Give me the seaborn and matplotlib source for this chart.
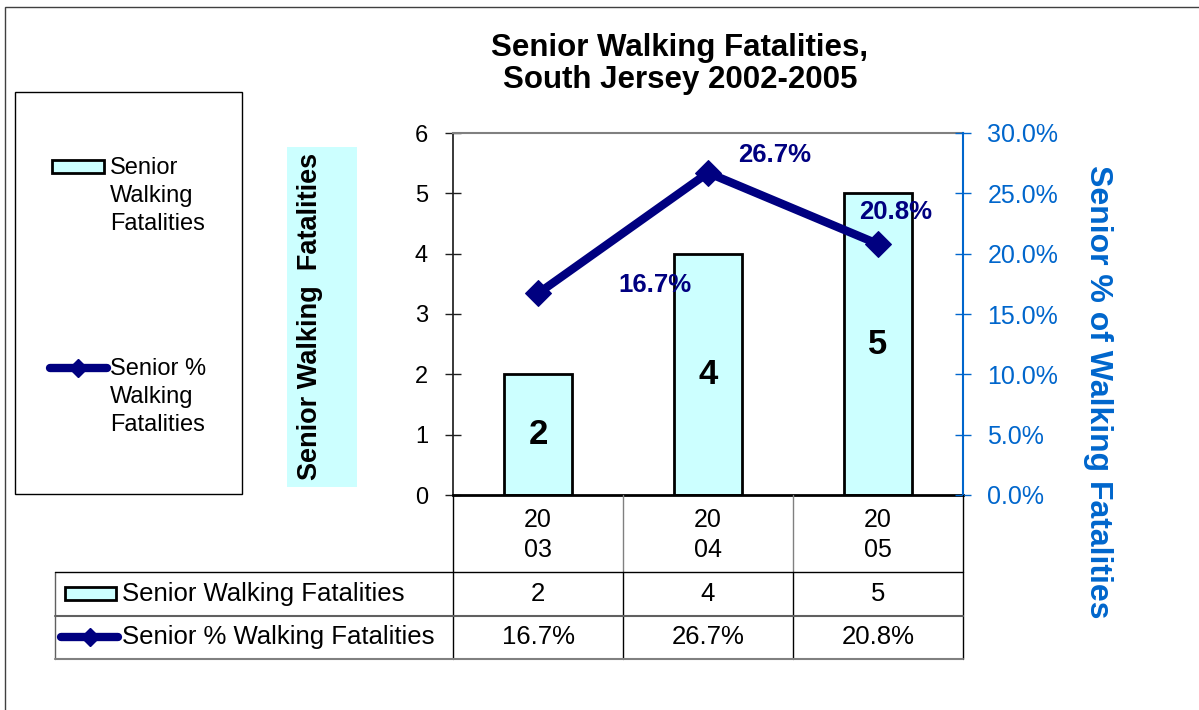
import textwrap
import numpy as np
import pandas as pd
import seaborn as sns
import matplotlib.pyplot as plt
from matplotlib.patches import Rectangle
from matplotlib.lines import Line2D

# data
years = ["2003", "2004", "2005"]
fatalities = [2, 4, 5]
senior_pct = [16.7, 26.7, 20.8]
bar_name = "Senior Walking Fatalities"
line_name = "Senior % Walking Fatalities"
title = "Senior Walking Fatalities,\nSouth Jersey 2002-2005"
left_label = "Senior Walking  Fatalities"
right_label = "Senior % of Walking Fatalities"

W, H = 1199, 710
CYAN = "#CCFFFF"
NAVY = "#000080"
BLUE = "#0066CC"


# layout helpers: pixel positions -> figure fractions
def fx(x):
    return x / W


def fy(y):
    return 1 - y / H


def hline(y, x0, x1, color="black", lw=1.0):
    fig.add_artist(Line2D([fx(x0), fx(x1)], [fy(y), fy(y)], color=color, lw=lw))


def vline(x, y0, y1, color="black", lw=1.0):
    fig.add_artist(Line2D([fx(x), fx(x)], [fy(y0), fy(y1)], color=color, lw=lw))


sns.set_theme(style="white")
plt.rcParams['font.family'] = ['Liberation Sans', 'DejaVu Sans']
plt.rcParams['text.color'] = 'black'
plt.rcParams['axes.labelcolor'] = 'black'
plt.rcParams['xtick.color'] = 'black'
plt.rcParams['ytick.color'] = 'black'

fig = plt.figure(figsize=(W / 100, H / 100), dpi=100)

# chart area border
fig.add_artist(Rectangle((fx(5), fy(730)), 1.2, fy(7) - fy(730),
                         fill=False, edgecolor="#404040", lw=1))

# plot area
ax = fig.add_axes([fx(453), fy(495), fx(963) - fx(453), fy(133) - fy(495)])
df = pd.DataFrame({"year": years, "fatalities": fatalities, "pct": senior_pct})
sns.barplot(data=df, x="year", y="fatalities", ax=ax, color=CYAN, saturation=1,
            edgecolor="black", linewidth=2, width=0.4)
ax.bar_label(ax.containers[0], label_type="center", fontsize=25, fontweight="bold",
             color="black")
ax.set_ylim(0, 6)
ax.set_xlim(-0.5, 2.5)
ax.set_yticks(range(7))
ax.set_xlabel("")
ax.set_ylabel("")
ax.tick_params(axis="x", length=0, labelbottom=False)
ax.tick_params(axis="y", direction="inout", length=12, width=1, color="#202020",
               labelcolor="black", labelsize=17, pad=12, left=True)
ax.spines["top"].set_color("#808080")
ax.spines["top"].set_linewidth(1.5)
ax.spines["left"].set_color("#202020")
ax.spines["bottom"].set_color("black")
ax.spines["bottom"].set_linewidth(2)
ax.spines["right"].set_visible(False)

# percentage line on the secondary axis
ax2 = ax.twinx()
sns.lineplot(x=np.arange(len(years)), y=senior_pct, ax=ax2, color=NAVY, linewidth=6,
             marker="D", markersize=13, markeredgecolor=NAVY)
ax2.set_ylim(0, 30)
ax2.set_xlim(-0.5, 2.5)
ax2.set_yticks(np.arange(0, 31, 5))
ax2.yaxis.set_major_formatter(lambda v, p: f"{v:.1f}%")
ax2.tick_params(axis="y", direction="inout", length=11, width=1, color=BLUE,
                labelcolor=BLUE, labelsize=18, pad=12, right=True)
for s in ["top", "left", "bottom"]:
    ax2.spines[s].set_visible(False)
ax2.spines["right"].set_color(BLUE)
ax2.spines["right"].set_linewidth(1.5)

# Excel put the point labels in odd spots (offsets in px)
pct_offsets = [(117, 8), (67, 18), (18, 32)]
for i, (v, (dx, dy)) in enumerate(zip(senior_pct, pct_offsets)):
    ax2.annotate(f"{v:.1f}%", (i, v), xytext=(dx * 0.72, dy * 0.72),
                 textcoords="offset points", ha="center", va="center",
                 fontsize=18.5, fontweight="bold", color=NAVY)

# title and axis titles
fig.text(fx(680), fy(64), title, ha="center", va="center", fontsize=22.5,
         fontweight="bold", linespacing=1.07)
fig.add_artist(Rectangle((fx(287), fy(487)), fx(357) - fx(287), fy(147) - fy(487),
                         facecolor=CYAN, edgecolor="none"))
fig.text(fx(310), fy(316), left_label, rotation=90, ha="center", va="center",
         fontsize=19.5, fontweight="bold")
fig.text(fx(1098), fy(392), right_label, rotation=-90, ha="center", va="center",
         fontsize=23, fontweight="bold", color=BLUE)

# legend box
fig.add_artist(Rectangle((fx(15), fy(494)), fx(242) - fx(15), fy(92) - fy(494),
                         fill=False, edgecolor="black", lw=1))
fig.add_artist(Rectangle((fx(52), fy(173)), fx(104) - fx(52), fy(160) - fy(173),
                         facecolor=CYAN, edgecolor="black", lw=2))
fig.text(fx(110), fy(196), textwrap.fill(bar_name, 9, break_long_words=False),
         fontsize=17, ha="left", va="center", linespacing=1.33)
fig.add_artist(Line2D([fx(50), fx(107)], [fy(368), fy(368)], color=NAVY, lw=6,
                      solid_capstyle="round"))
fig.add_artist(Line2D([fx(78)], [fy(368)], marker="D", ms=9, color=NAVY))
fig.text(fx(110), fy(397), textwrap.fill(line_name, 9, break_long_words=False),
         fontsize=17, ha="left", va="center", linespacing=1.33)

# data table under the plot
col_edges = [453, 623, 793, 963]
col_mid = [(a + b) / 2 for a, b in zip(col_edges[:-1], col_edges[1:])]
vline(453, 495, 659)
vline(963, 495, 659)
for x in col_edges[1:-1]:
    vline(x, 495, 572, color="#808080")
    vline(x, 572, 659)
vline(55, 572, 659, color="#606060")
hline(572, 55, 963)
hline(616, 55, 963, color="#606060", lw=1.5)
hline(659, 55, 963, color="#808080", lw=1.5)

for x, yr in zip(col_mid, years):
    fig.text(fx(x), fy(535), yr[:2] + "\n" + yr[2:], ha="center", va="center",
             fontsize=18, linespacing=1.32)
for x, v in zip(col_mid, fatalities):
    fig.text(fx(x), fy(594), f"{v}", ha="center", va="center", fontsize=18.5)
for x, p in zip(col_mid, senior_pct):
    fig.text(fx(x), fy(637), f"{p:.1f}%", ha="center", va="center", fontsize=18.5)

fig.add_artist(Rectangle((fx(65), fy(600)), fx(116) - fx(65), fy(587) - fy(600),
                         facecolor=CYAN, edgecolor="black", lw=2))
fig.text(fx(122), fy(594), bar_name, ha="left", va="center", fontsize=18.5)
fig.add_artist(Line2D([fx(61), fx(118)], [fy(637), fy(637)], color=NAVY, lw=6,
                      solid_capstyle="round"))
fig.add_artist(Line2D([fx(90)], [fy(637)], marker="D", ms=9, color=NAVY))
fig.text(fx(122), fy(637), line_name, ha="left", va="center", fontsize=18.5)

plt.savefig("out.png", dpi=100)
plt.close()
